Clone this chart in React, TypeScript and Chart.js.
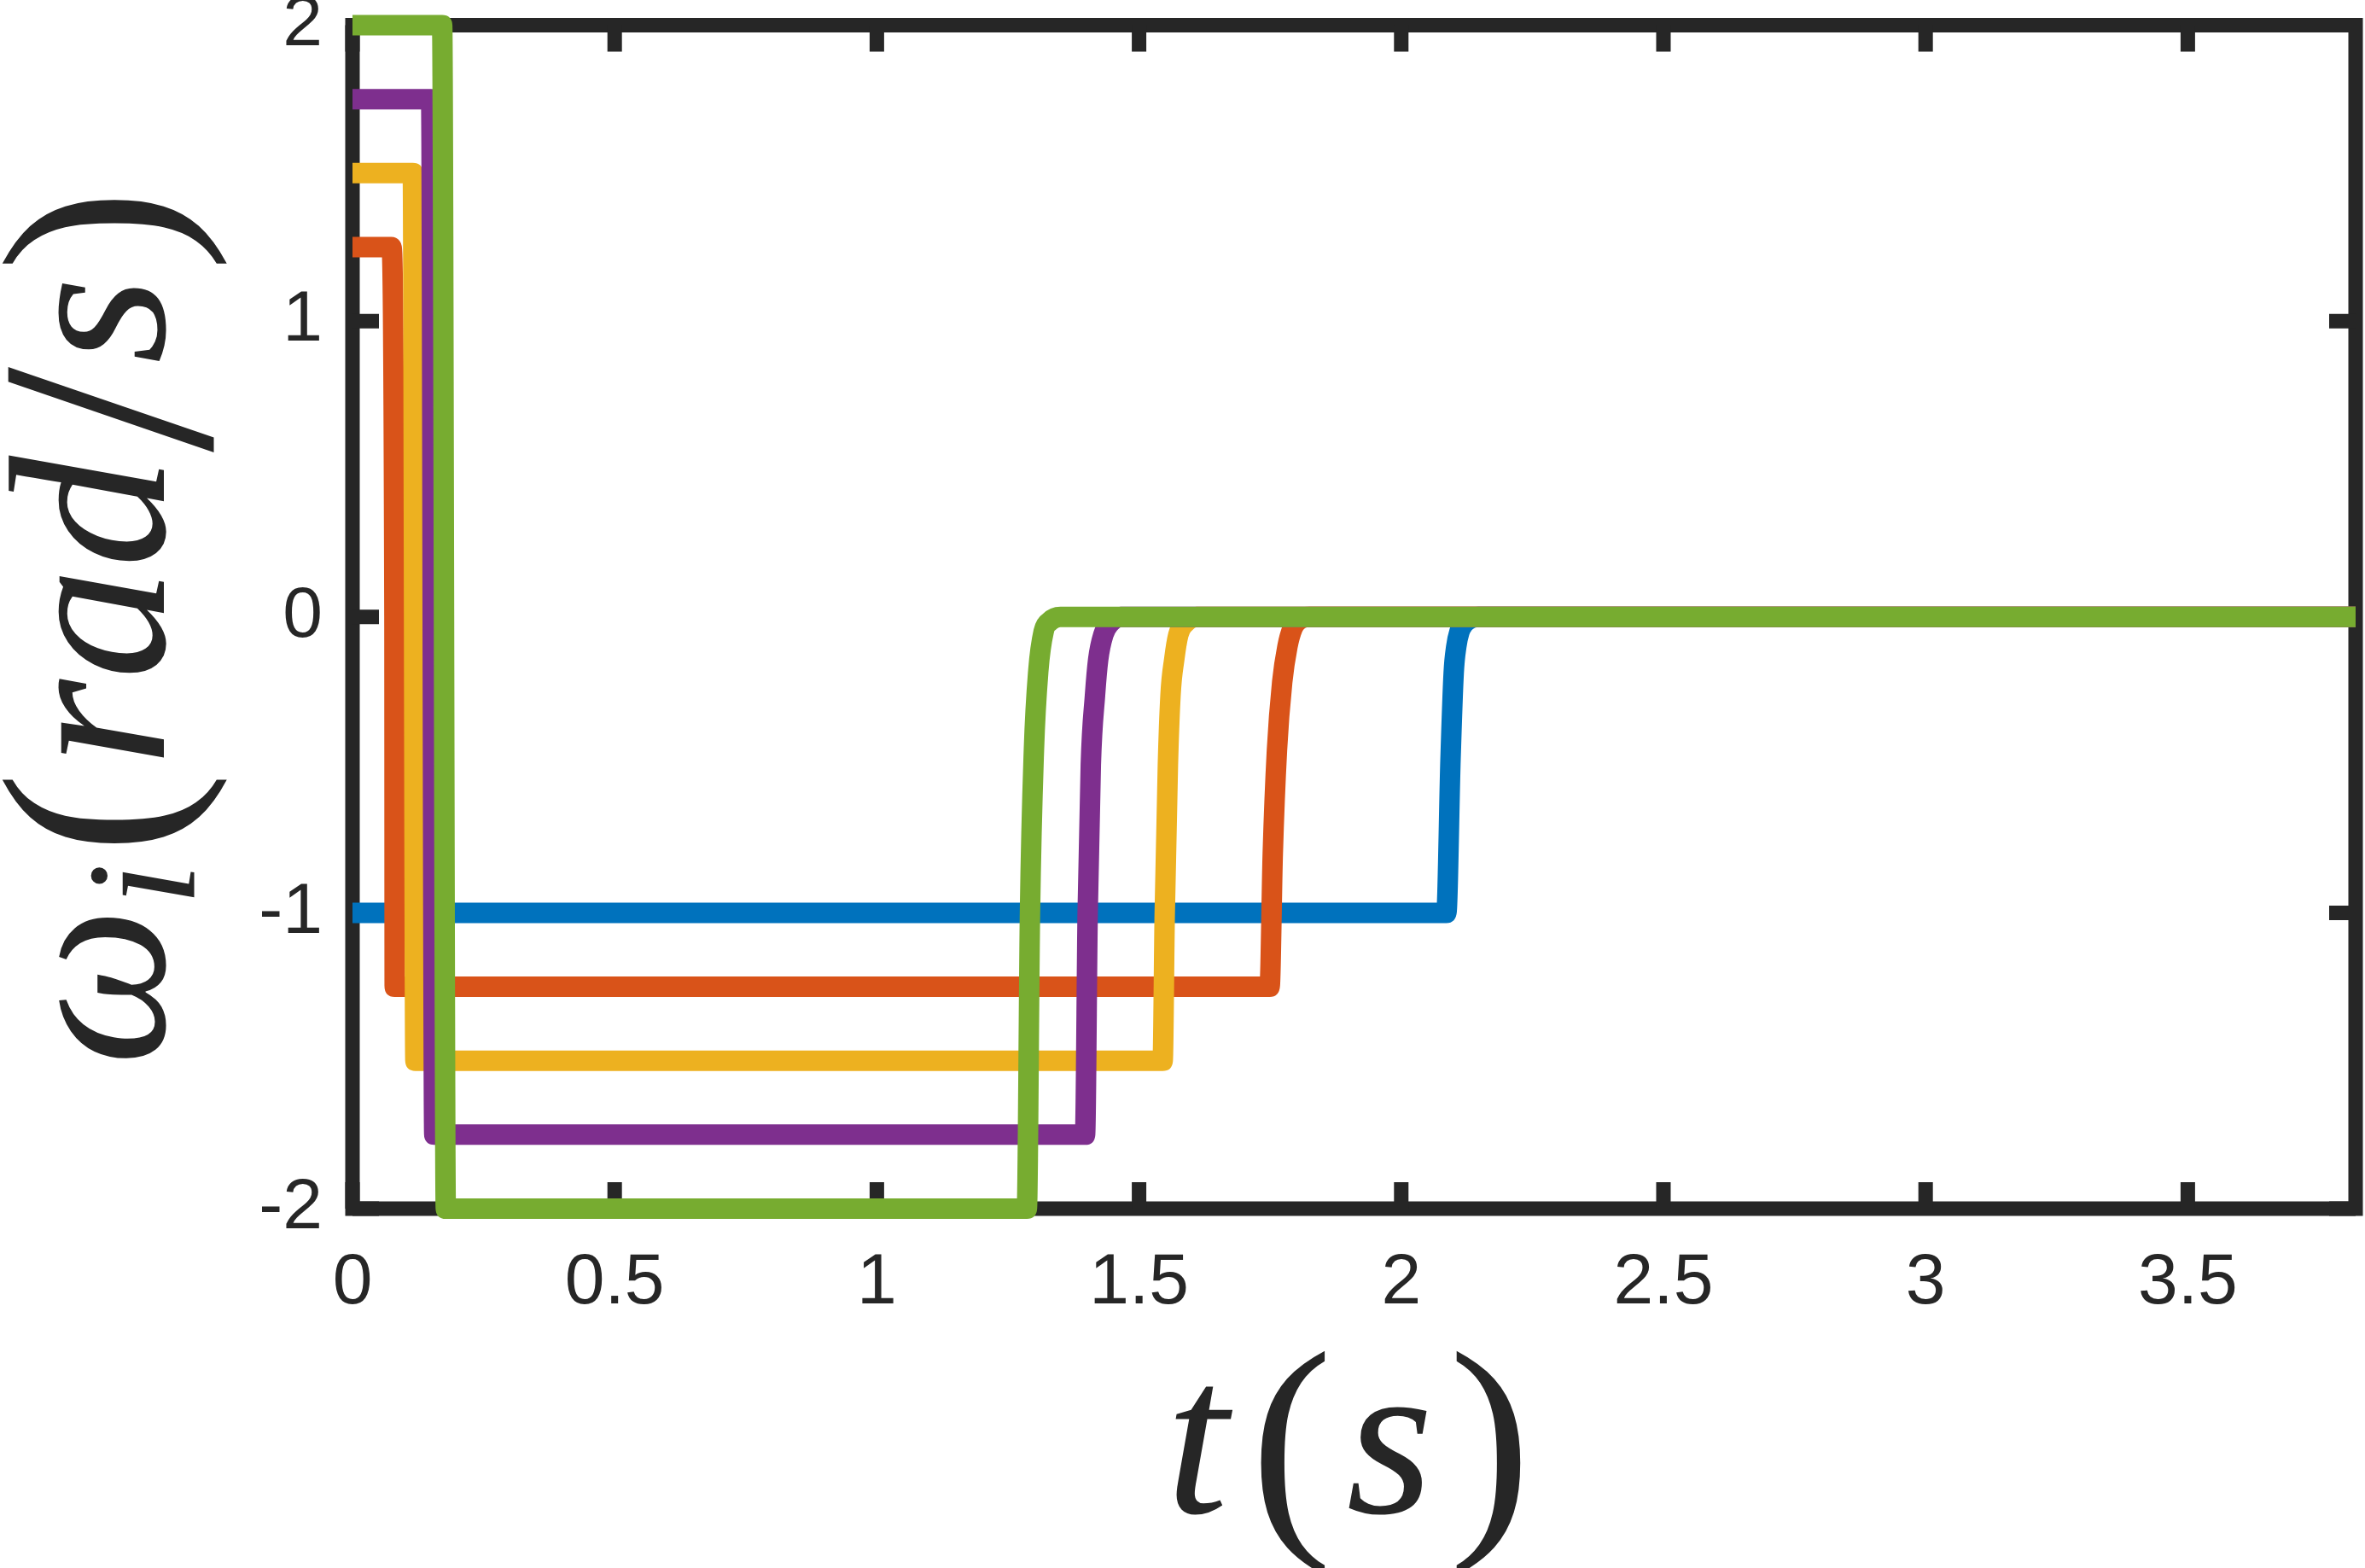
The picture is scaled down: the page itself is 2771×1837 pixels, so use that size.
import React, { useEffect, useRef } from 'react';
import { Chart, registerables } from 'chart.js';

Chart.register(...registerables);

const WIDTH = 2771;
const HEIGHT = 1837;
const INK = '#262626';

// Time samples (s) and angular rate (rad/s) for each run
const blueT = [0, 2.086, 2.094, 2.1, 2.105, 2.111, 2.12, 2.132, 2.147, 3.82];
const blueW = [-1, -1, -0.48, -0.19, -0.1, -0.05, -0.022, -0.006, 0, 0];

const orangeT = [0, 0.074, 0.08, 0.0805, 1.749, 1.755, 1.763, 1.773, 1.783, 1.793, 1.805, 1.825, 3.82];
const orangeW = [1.25, 1.25, 0, -1.25, -1.25, -0.8, -0.45, -0.22, -0.1, -0.037, -0.01, 0, 0];

const yellowT = [0, 0.115, 0.12, 1.545, 1.549, 1.555, 1.56, 1.567, 1.575, 1.588, 1.61, 3.82];
const yellowW = [1.5, 1.5, -1.5, -1.5, -1, -0.5, -0.265, -0.145, -0.06, -0.02, 0, 0];

const purpleT = [0, 0.15, 0.156, 1.397, 1.402, 1.408, 1.416, 1.422, 1.432, 1.445, 1.465, 3.82];
const purpleW = [1.75, 1.75, -1.75, -1.75, -1, -0.5, -0.265, -0.145, -0.06, -0.02, 0, 0];

const greenT = [0, 0.171, 0.178, 1.286, 1.292, 1.2995, 1.308, 1.318, 1.33, 1.35, 3.82];
const greenW = [2, 2, -2, -2, -1, -0.45, -0.18, -0.05, -0.015, 0, 0];

// Axis ticks
const xTicks = [0, 0.5, 1, 1.5, 2, 2.5, 3, 3.5];
const xTickLabels = ['0', '0.5', '1', '1.5', '2', '2.5', '3', '3.5'];
const yTicks = [-2, -1, 0, 1, 2];
const yTickLabels = ['-2', '-1', '0', '1', '2'];

const X_MIN = 0;
const X_MAX = 3.82;
const Y_MIN = -2;
const Y_MAX = 2;

type Seg = { text: string; italic: boolean; size: number; shift?: number; gap?: number };

const SERIF = '"Liberation Serif", "Times New Roman", serif';
const L = 262; // letter size
const P = 290; // bracket size

const xTitle: Seg[] = [
  { text: 't', italic: true, size: L, gap: 26 },
  { text: '(', italic: false, size: P, shift: 12, gap: 16 },
  { text: 's', italic: true, size: L, gap: 18 },
  { text: ')', italic: false, size: P, shift: 12 },
];

const yTitle: Seg[] = [
  { text: 'ω', italic: true, size: L, gap: 2 },
  { text: 'i', italic: true, size: 183, shift: 36, gap: 10 },
  { text: '(', italic: false, size: P, shift: 12, gap: 6 },
  { text: 'r', italic: true, size: L },
  { text: 'a', italic: true, size: L },
  { text: 'd', italic: true, size: L, gap: 4 },
  { text: '/', italic: false, size: 360, shift: 55, gap: 4 },
  { text: 's', italic: true, size: L, gap: 6 },
  { text: ')', italic: false, size: P, shift: 12 },
];

function segFont(s: Seg) {
  return `${s.italic ? 'italic ' : ''}${s.size}px ${SERIF}`;
}

function drawMath(ctx: CanvasRenderingContext2D, segs: Seg[], cx: number, cy: number, angle: number) {
  ctx.save();
  ctx.translate(cx, cy);
  ctx.rotate(angle);
  ctx.fillStyle = INK;
  ctx.textAlign = 'left';
  ctx.textBaseline = 'alphabetic';
  const widths = segs.map((s) => {
    ctx.font = segFont(s);
    return ctx.measureText(s.text).width;
  });
  const total = segs.reduce((acc, s, i) => acc + widths[i] + (s.gap || 0), 0);
  let x = -total / 2;
  segs.forEach((s, i) => {
    ctx.font = segFont(s);
    ctx.fillText(s.text, x, s.shift || 0);
    x += widths[i] + (s.gap || 0);
  });
  ctx.restore();
}

const framePlugin = {
  id: 'boxFrame',
  beforeDatasetsDraw(chart: any) {
    const { ctx, chartArea: a, scales } = chart;
    ctx.save();
    ctx.strokeStyle = INK;
    ctx.lineWidth = 17;
    ctx.lineJoin = 'miter';
    ctx.lineCap = 'butt';
    ctx.strokeRect(a.left, a.top, a.right - a.left, a.bottom - a.top);
    const len = 31;
    ctx.beginPath();
    xTicks.forEach((v) => {
      const px = scales.x.getPixelForValue(v);
      ctx.moveTo(px, a.bottom);
      ctx.lineTo(px, a.bottom - len);
      ctx.moveTo(px, a.top);
      ctx.lineTo(px, a.top + len);
    });
    yTicks.forEach((v) => {
      const py = scales.y.getPixelForValue(v);
      ctx.moveTo(a.left, py);
      ctx.lineTo(a.left + len, py);
      ctx.moveTo(a.right, py);
      ctx.lineTo(a.right - len, py);
    });
    ctx.stroke();
    ctx.restore();
  },
  afterDraw(chart: any) {
    const { ctx } = chart;
    drawMath(ctx, xTitle, 1580, 1772, 0);
    drawMath(ctx, yTitle, 192, 735, -Math.PI / 2);
  },
};

function series(ts: number[], ws: number[]) {
  return ts.map((t, i) => ({ x: t, y: ws[i] }));
}

function line(label: string, ts: number[], ws: number[], color: string, order: number) {
  return {
    label,
    data: series(ts, ws),
    borderColor: color,
    backgroundColor: color,
    borderWidth: 24,
    pointRadius: 0,
    cubicInterpolationMode: 'monotone' as const,
    fill: false,
    borderJoinStyle: 'round' as const,
    borderCapStyle: 'butt' as const,
    clip: false as const,
    order,
  };
}

export default function App() {
  const canvasRef = useRef<HTMLCanvasElement | null>(null);

  useEffect(() => {
    const canvas = canvasRef.current;
    if (!canvas) return;
    const chart = new Chart(canvas, {
      type: 'line',
      data: {
        datasets: [
          line('ω1', blueT, blueW, '#0072BD', 4),
          line('ω2', orangeT, orangeW, '#D95319', 3),
          line('ω3', yellowT, yellowW, '#EDB120', 2),
          line('ω4', purpleT, purpleW, '#7E2F8E', 1),
          line('ω5', greenT, greenW, '#77AC30', 0),
        ],
      },
      options: {
        responsive: false,
        animation: false,
        devicePixelRatio: 1,
        events: [],
        layout: { padding: { left: 0, top: 29.5, right: 11, bottom: 0 } },
        plugins: {
          legend: { display: false },
          tooltip: { enabled: false },
          title: { display: false },
        },
        scales: {
          x: {
            type: 'linear',
            min: X_MIN,
            max: X_MAX,
            afterFit: (s: any) => {
              s.height = HEIGHT - 1416;
              s.paddingLeft = 0;
              s.paddingRight = 0;
            },
            afterBuildTicks: (s: any) => {
              s.ticks = xTicks.map((v) => ({ value: v }));
            },
            grid: { display: false, drawTicks: false },
            border: { display: false },
            ticks: {
              autoSkip: false,
              maxRotation: 0,
              minRotation: 0,
              padding: 37,
              color: INK,
              font: { family: '"Liberation Sans", Arial, sans-serif', size: 84, lineHeight: 1.2 },
              callback: (v: any) => {
                const i = xTicks.findIndex((t) => Math.abs(t - Number(v)) < 1e-9);
                return i >= 0 ? xTickLabels[i] : '';
              },
            },
          },
          y: {
            type: 'linear',
            min: Y_MIN,
            max: Y_MAX,
            afterFit: (s: any) => {
              s.width = 413;
              s.paddingTop = 0;
              s.paddingBottom = 0;
            },
            afterBuildTicks: (s: any) => {
              s.ticks = yTicks.map((v) => ({ value: v }));
            },
            grid: { display: false, drawTicks: false },
            border: { display: false },
            ticks: {
              autoSkip: false,
              padding: 35,
              color: INK,
              font: { family: '"Liberation Sans", Arial, sans-serif', size: 84, lineHeight: 1.2 },
              callback: (v: any) => {
                const i = yTicks.findIndex((t) => Math.abs(t - Number(v)) < 1e-9);
                return i >= 0 ? yTickLabels[i] : '';
              },
            },
          },
        },
      },
      plugins: [framePlugin],
    });
    return () => chart.destroy();
  }, []);

  return (
    <div
      style={{
        position: 'fixed',
        left: 0,
        top: 0,
        width: WIDTH,
        height: HEIGHT,
        background: '#ffffff',
      }}
    >
      <canvas ref={canvasRef} width={WIDTH} height={HEIGHT} style={{ display: 'block', width: WIDTH, height: HEIGHT }} />
    </div>
  );
}
